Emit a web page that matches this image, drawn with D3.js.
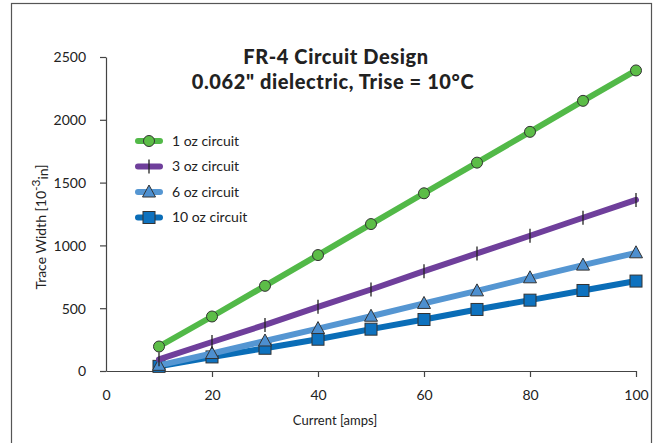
<!DOCTYPE html>
<html>
<head>
<meta charset="utf-8">
<script src="https://cdn.jsdelivr.net/npm/d3@7"></script>
<style>
  body { margin: 0; background: #fff; }
  text { font-family: Lato, "Open Sans", sans-serif; fill: #222; }
</style>
</head>
<body>
<svg width="661" height="443"></svg>
<script>
// chart data
const currents = [10, 20, 30, 40, 50, 60, 70, 80, 90, 100]
const oz1 = [195, 434, 678, 923, 1170, 1415, 1659, 1904, 2151, 2393]
const oz3 = [93, 231, 367, 511, 649, 795, 936, 1077, 1220, 1362]
const oz6 = [45, 139, 239, 338, 436, 538, 638, 742, 843, 941]
const oz10 = [37, 112, 181, 253, 333, 410, 490, 564, 641, 716]
const seriesNames = ['1 oz circuit', '3 oz circuit', '6 oz circuit', '10 oz circuit']
const xTicks = [0, 20, 40, 60, 80, 100]
const yTicks = [0, 500, 1000, 1500, 2000, 2500]

const series = [
    {name: seriesNames[0], values: oz1, color: '#52b948', fill: '#5cbd47', marker: 'circle'},
    {name: seriesNames[1], values: oz3, color: '#6f3f9b', fill: '#6f3f9b', marker: 'plus'},
    {name: seriesNames[2], values: oz6, color: '#5596d2', fill: '#4d8fcf', marker: 'triangle'},
    {name: seriesNames[3], values: oz10, color: '#0a6db7', fill: '#0e72bf', marker: 'square'}
]

const svg = d3.select('svg')

// outer frame
svg.append('rect')
    .attr('x', 11.5).attr('y', 3.5)
    .attr('width', 640).attr('height', 450)
    .attr('fill', 'none')
    .attr('stroke', '#555')
    .attr('stroke-width', 1.2)

const x = d3.scaleLinear().domain([0, 100]).range([106, 636])
const y = d3.scaleLinear().domain([0, 2500]).range([371, 57])

const xAxis = svg.append('g')
    .attr('transform', `translate(0, ${y(0)})`)
    .call(d3.axisBottom(x).tickValues(xTicks).tickFormat(d3.format('d'))
        .tickSize(6).tickPadding(13).tickSizeOuter(0))
const yAxis = svg.append('g')
    .attr('transform', `translate(${x(0)}, 0)`)
    .call(d3.axisLeft(y).tickValues(yTicks).tickFormat(d3.format('d'))
        .tickSize(6).tickPadding(14).tickSizeOuter(0))

;[xAxis, yAxis].forEach(g => {
    g.select('.domain').attr('stroke', '#444').attr('stroke-width', 1.2)
    g.selectAll('.tick line').attr('stroke', '#444').attr('stroke-width', 1.2)
    g.selectAll('.tick text')
        .style('font-family', 'Lato, sans-serif')
        .style('font-size', '14px')
        .attr('fill', '#222')
})
// 0 on the x axis sits under the axis origin
xAxis.selectAll('.tick line').filter(d => d === 0).remove()
yAxis.selectAll('.tick text').attr('dy', '0.35em')

// axis labels
svg.append('text')
    .attr('x', 335).attr('y', 425)
    .attr('text-anchor', 'middle')
    .style('font-size', '13px')
    .text('Current [amps]')

const yl = svg.append('text')
    .attr('transform', 'translate(46, 227) rotate(-90)')
    .attr('text-anchor', 'middle')
    .style('font-size', '14px')
yl.append('tspan').text('Trace Width [10')
yl.append('tspan').attr('dy', -6).style('font-size', '12px').text('-3')
yl.append('tspan').attr('dy', 8).text('in')
yl.append('tspan').attr('dy', -2).text(']')

// title
svg.append('text')
    .attr('x', 336).attr('y', 64)
    .attr('text-anchor', 'middle')
    .style('font-size', '20px').style('font-weight', '900')
    .style('letter-spacing', '0.6px')
    .text('FR-4 Circuit Design')
svg.append('text')
    .attr('x', 333).attr('y', 89)
    .attr('text-anchor', 'middle')
    .style('font-size', '20px').style('font-weight', '900')
    .style('letter-spacing', '0.6px')
    .text('0.062" dielectric, Trise = 10°C')

function drawMarker(g, s, cx, cy) {
    if (s.marker === 'circle') {
        g.append('circle').attr('cx', cx).attr('cy', cy).attr('r', 5.5)
            .attr('fill', s.fill).attr('stroke', '#333').attr('stroke-width', 1)
    } else if (s.marker === 'plus') {
        g.append('line').attr('x1', cx).attr('x2', cx).attr('y1', cy - 7).attr('y2', cy + 7)
            .attr('stroke', '#222').attr('stroke-width', 1.3)
    } else if (s.marker === 'triangle') {
        g.append('path').attr('d', `M${cx},${cy - 7}L${cx + 6.5},${cy + 5}L${cx - 6.5},${cy + 5}Z`)
            .attr('fill', s.fill).attr('stroke', '#333').attr('stroke-width', 1)
    } else {
        g.append('rect').attr('x', cx - 6).attr('y', cy - 6).attr('width', 12).attr('height', 12)
            .attr('fill', s.fill).attr('stroke', '#333').attr('stroke-width', 1)
    }
}

const line = d3.line().x((d, i) => x(currents[i])).y(d => y(d))

// draw from the last series up so green sits on top
series.slice().reverse().forEach(s => {
    const g = svg.append('g')
    g.append('path')
        .datum(s.values)
        .attr('d', line)
        .attr('fill', 'none')
        .attr('stroke', s.color)
        .attr('stroke-width', 6)
        .attr('stroke-linecap', 'round')
    s.values.forEach((v, i) => drawMarker(g, s, x(currents[i]), y(v)))
})

// legend
const legend = svg.append('g')
series.forEach((s, i) => {
    const ly = 141 + i * 25.5
    legend.append('line')
        .attr('x1', 138).attr('x2', 160).attr('y1', ly).attr('y2', ly)
        .attr('stroke', s.color).attr('stroke-width', 6).attr('stroke-linecap', 'round')
    drawMarker(legend, s, 149, ly)
    legend.append('text')
        .attr('x', 172).attr('y', ly).attr('dy', '0.35em')
        .style('font-size', '14px')
        .text(s.name)
})
</script>
</body>
</html>
